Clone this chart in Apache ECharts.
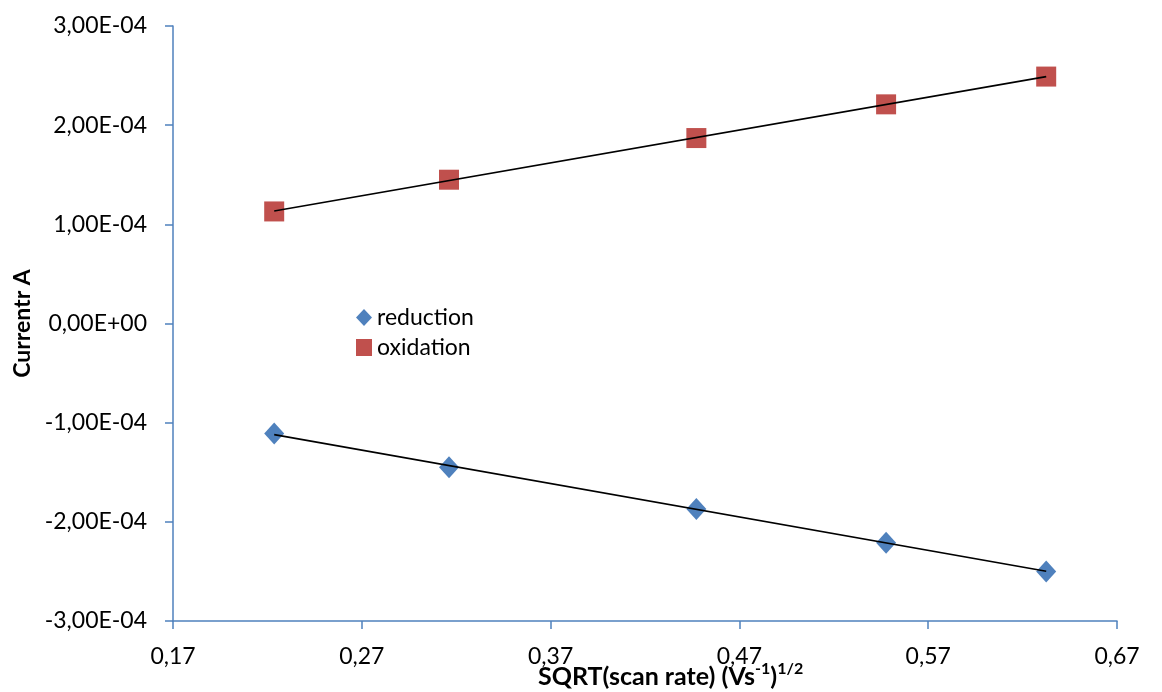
<!DOCTYPE html>
<html>
<head>
<meta charset="utf-8">
<script src="https://cdn.jsdelivr.net/npm/echarts@6/dist/echarts.min.js"></script>
<style>
html,body{margin:0;padding:0;background:#fff;}
#chart{width:1162px;height:692px;}
</style>
</head>
<body>
<div id="chart"></div>
<script>
// ---- data ----
const sqrtScanRate = [0.2236, 0.3162, 0.4472, 0.5477, 0.6325];
const reduction = [-1.11e-4, -1.45e-4, -1.87e-4, -2.21e-4, -2.50e-4];
const oxidation = [1.13e-4, 1.45e-4, 1.87e-4, 2.21e-4, 2.49e-4];
const xTicks = [0.17, 0.27, 0.37, 0.47, 0.57, 0.67];
const yTicks = [-3e-4, -2e-4, -1e-4, 0, 1e-4, 2e-4, 3e-4];
const seriesNames = ['reduction', 'oxidation'];

function pairs(xs, ys) { return xs.map((x, i) => [x, ys[i]]); }
function trend(xs, ys) {
  const n = xs.length;
  const mx = xs.reduce((a, b) => a + b, 0) / n;
  const my = ys.reduce((a, b) => a + b, 0) / n;
  let sxy = 0, sxx = 0;
  for (let i = 0; i < n; i++) { sxy += (xs[i] - mx) * (ys[i] - my); sxx += (xs[i] - mx) * (xs[i] - mx); }
  const b = sxy / sxx, a = my - b * mx;
  const x0 = Math.min(...xs), x1 = Math.max(...xs);
  return [[x0, a + b * x0], [x1, a + b * x1]];
}
function sci(v) {
  if (Math.abs(v) < 1e-12) return '0,00E+00';
  const e = Math.floor(Math.log10(Math.abs(v)) + 1e-9);
  const m = v / Math.pow(10, e);
  return m.toFixed(2).replace('.', ',') + 'E' + (e < 0 ? '-' : '+') + String(Math.abs(e)).padStart(2, '0');
}

const FONT = 'Lato';
const AXIS_COLOR = '#4F81BD';
const chart = echarts.init(document.getElementById('chart'));
chart.setOption({
  animation: false,
  backgroundColor: '#ffffff',
  textStyle: { fontFamily: FONT },
  grid: { left: 173, right: 45, top: 26, bottom: 71, containLabel: false, outerBoundsMode: 'none' },
  legend: {
    data: [
      { name: seriesNames[0], icon: 'diamond' },
      { name: seriesNames[1], icon: 'rect' }
    ],
    orient: 'vertical',
    left: 351, top: 301,
    itemWidth: 16, itemHeight: 17, itemGap: 7,
    textStyle: { fontFamily: FONT, fontSize: 23, color: '#000', lineHeight: 23 }
  },
  xAxis: {
    type: 'value', min: 0.17, max: 0.67,
    axisLine: { onZero: false, lineStyle: { color: AXIS_COLOR, width: 1.5 } },
    axisTick: { show: true, length: 8, lineStyle: { color: AXIS_COLOR, width: 1.5 }, customValues: xTicks },
    axisLabel: { customValues: xTicks, margin: 24, fontSize: 23, color: '#000', fontFamily: FONT,
      formatter: v => v.toFixed(2).replace('.', ',') },
    splitLine: { show: false }
  },
  yAxis: {
    type: 'value', min: -3e-4, max: 3e-4,
    axisLine: { show: true, onZero: false, lineStyle: { color: AXIS_COLOR, width: 1.5 } },
    axisTick: { show: true, length: 8, lineStyle: { color: AXIS_COLOR, width: 1.5 }, customValues: yTicks },
    axisLabel: { customValues: yTicks, margin: 26, fontSize: 23, color: '#000', fontFamily: FONT, formatter: sci },
    splitLine: { show: false },
    name: 'Currentr A', nameLocation: 'middle', nameGap: 130, nameRotate: 90,
    nameTextStyle: { fontFamily: FONT, fontSize: 23, fontWeight: 'bold', color: '#000' }
  },
  graphic: [{
    type: 'text', left: 538, top: 661,
    style: {
      rich: {
        b: { fontFamily: FONT, fontSize: 25, fontWeight: 'bold', fill: '#000', lineHeight: 31 },
        s: { fontFamily: FONT, fontSize: 16, fontWeight: 'bold', fill: '#000', lineHeight: 19, verticalAlign: 'top' }
      },
      text: '{b|SQRT(scan rate) (Vs}{s|-1}{b|)}{s|1/2}'
    }
  }],
  series: [
    { name: seriesNames[0], type: 'scatter', symbol: 'diamond', symbolSize: [20, 22],
      itemStyle: { color: '#4F81BD', opacity: 1 }, data: pairs(sqrtScanRate, reduction), z: 2 },
    { name: seriesNames[1], type: 'scatter', symbol: 'rect', symbolSize: 20,
      itemStyle: { color: '#C0504D', opacity: 1 }, data: pairs(sqrtScanRate, oxidation), z: 2 },
    { name: 'trend-red', type: 'line', data: trend(sqrtScanRate, reduction), symbol: 'none',
      lineStyle: { color: '#000', width: 1.6 }, z: 3, silent: true },
    { name: 'trend-ox', type: 'line', data: trend(sqrtScanRate, oxidation), symbol: 'none',
      lineStyle: { color: '#000', width: 1.6 }, z: 3, silent: true }
  ]
});
</script>
</body>
</html>
